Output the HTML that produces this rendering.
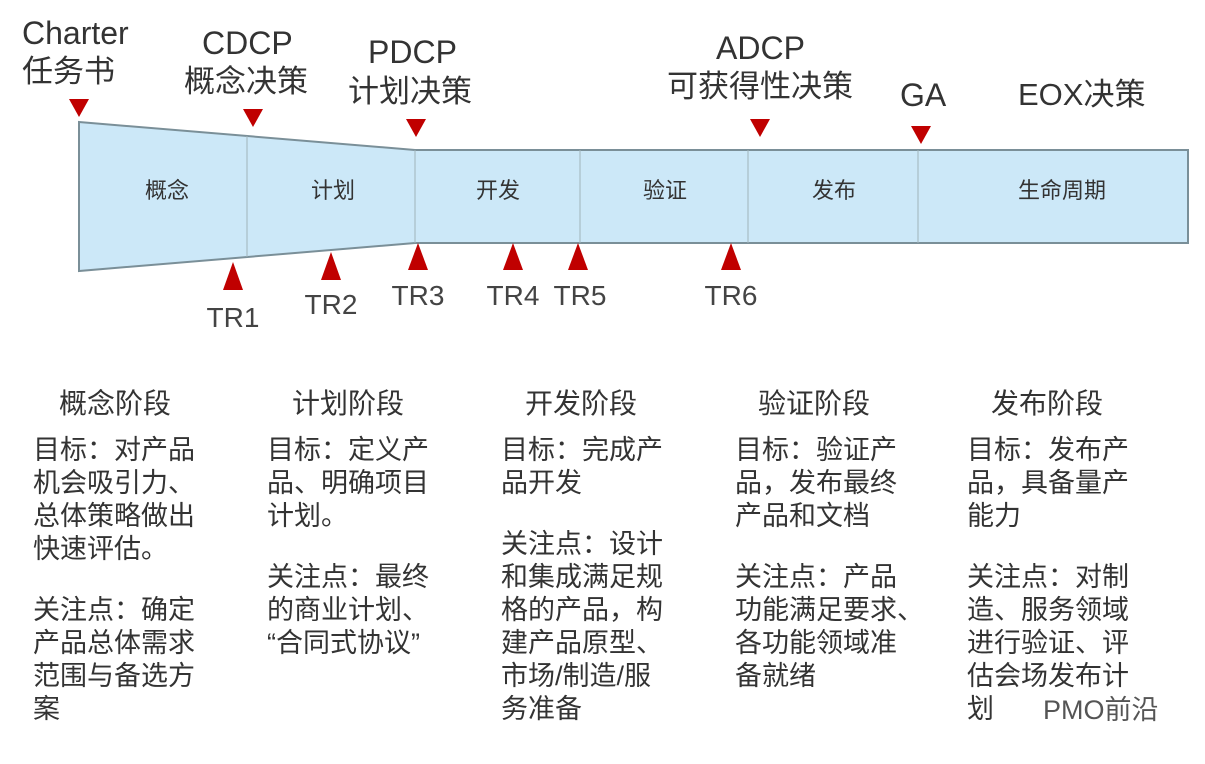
<!DOCTYPE html>
<html><head><meta charset="utf-8"><style>
body{margin:0;width:1205px;height:764px;background:#fff;overflow:hidden;position:relative;font-family:"Liberation Sans","Noto Sans CJK SC",sans-serif;color:#333}
.t{position:absolute;white-space:nowrap;line-height:1;font-size:31px}
.c{position:absolute;font-size:27px;line-height:33px;color:#333;white-space:nowrap;letter-spacing:0px}
.h{position:absolute;font-size:28px;color:#333;white-space:nowrap}
</style></head><body>
<svg width="1205" height="764" style="position:absolute;left:0;top:0">
<polygon points="79,122 415,150 1188,150 1188,243 415,243 79,271" fill="#cce8f8" stroke="#7a8f98" stroke-width="2"/>
<g stroke="#a0b3ba" stroke-width="1">
<line x1="247" y1="136" x2="247" y2="257"/><line x1="415" y1="150" x2="415" y2="243"/>
<line x1="580" y1="150" x2="580" y2="243"/><line x1="748" y1="150" x2="748" y2="243"/><line x1="918" y1="150" x2="918" y2="243"/></g>
<g fill="#c00000">
<polygon points="69,99 89,99 79,117"/><polygon points="243,109 263,109 253,127"/>
<polygon points="406,119 426,119 416,137"/><polygon points="750,119 770,119 760,137"/>
<polygon points="911,126 931,126 921,144"/>
<polygon points="223,290 243,290 233,262"/><polygon points="321,280 341,280 331,252"/>
<polygon points="408,270 428,270 418,243"/><polygon points="503,270 523,270 513,243"/>
<polygon points="568,270 588,270 578,243"/><polygon points="721,270 741,270 731,243"/>
</g>
<g font-size="22" fill="#333" text-anchor="middle" font-family="Liberation Sans,Noto Sans CJK SC,sans-serif">
<text x="167" y="198">概念</text><text x="333" y="198">计划</text><text x="498" y="198">开发</text>
<text x="665" y="198">验证</text><text x="834" y="198">发布</text><text x="1062" y="198">生命周期</text></g>
<g font-size="28" fill="#444" text-anchor="middle" font-family="Liberation Sans,sans-serif">
<text x="233" y="327">TR1</text><text x="331" y="314">TR2</text><text x="418" y="305">TR3</text>
<text x="513" y="305">TR4</text><text x="580" y="305">TR5</text><text x="731" y="305">TR6</text></g>
</svg>
<div class="t" style="left:22px;top:17px;font-size:32px">Charter</div>
<div class="t" style="left:22px;top:56px;font-size:31px">任务书</div>
<div class="t" style="left:202px;top:27px;font-size:32px">CDCP</div>
<div class="t" style="left:184px;top:66px;font-size:31px">概念决策</div>
<div class="t" style="left:368px;top:36px;font-size:32px">PDCP</div>
<div class="t" style="left:348px;top:76px;font-size:31px">计划决策</div>
<div class="t" style="left:716px;top:32px;font-size:32px">ADCP</div>
<div class="t" style="left:667px;top:71px;font-size:31px">可获得性决策</div>
<div class="t" style="left:900px;top:79px;font-size:32px">GA</div>
<div class="t" style="left:1018px;top:79px;font-size:31px">EOX决策</div>

<div class="h" style="left:59px;top:382px">概念阶段</div>
<div class="h" style="left:292px;top:382px">计划阶段</div>
<div class="h" style="left:525px;top:382px">开发阶段</div>
<div class="h" style="left:758px;top:382px">验证阶段</div>
<div class="h" style="left:991px;top:382px">发布阶段</div>

<div class="c" style="left:33px;top:434px">目标：对产品<br>机会吸引力、<br>总体策略做出<br>快速评估。</div>
<div class="c" style="left:33px;top:594px">关注点：确定<br>产品总体需求<br>范围与备选方<br>案</div>
<div class="c" style="left:267px;top:434px">目标：定义产<br>品、明确项目<br>计划。</div>
<div class="c" style="left:267px;top:561px">关注点：最终<br>的商业计划、<br>“合同式协议”</div>
<div class="c" style="left:501px;top:434px">目标：完成产<br>品开发</div>
<div class="c" style="left:501px;top:528px">关注点：设计<br>和集成满足规<br>格的产品，构<br>建产品原型、<br>市场/制造/服<br>务准备</div>
<div class="c" style="left:735px;top:434px">目标：验证产<br>品，发布最终<br>产品和文档</div>
<div class="c" style="left:735px;top:561px">关注点：产品<br>功能满足要求、<br>各功能领域准<br>备就绪</div>
<div class="c" style="left:967px;top:434px">目标：发布产<br>品，具备量产<br>能力</div>
<div class="c" style="left:967px;top:561px">关注点：对制<br>造、服务领域<br>进行验证、评<br>估会场发布计<br>划</div>
<div class="t" style="left:1043px;top:697px;font-size:27px;color:#555">PMO前沿</div>
</body></html>
